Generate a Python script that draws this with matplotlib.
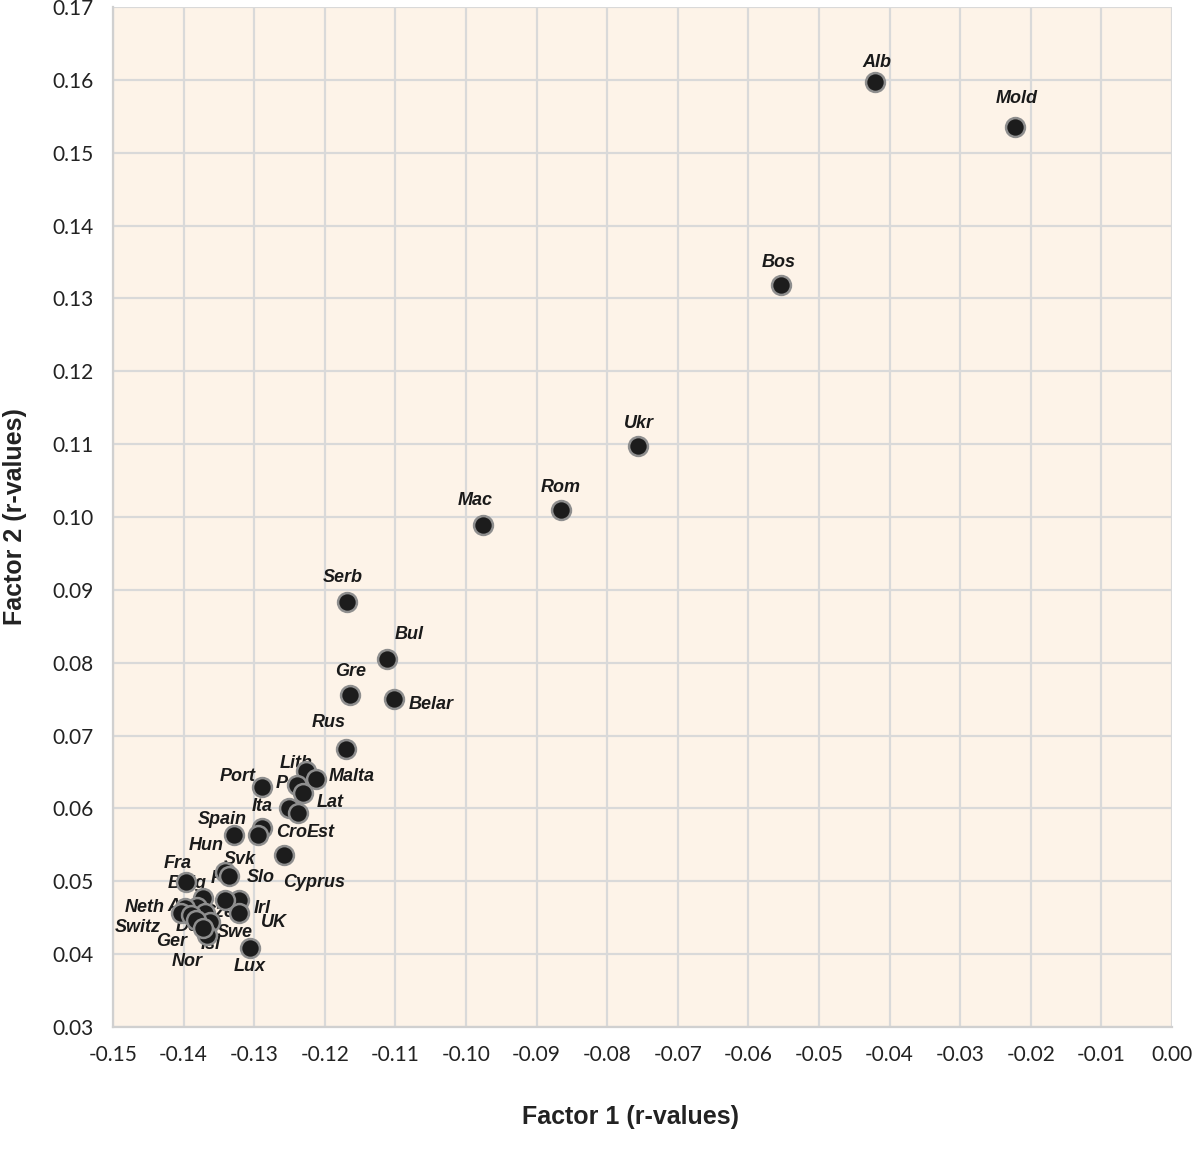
import matplotlib
matplotlib.use("Agg")
import matplotlib.pyplot as plt
import numpy as np

# country codes, factor 1 and factor 2 r-values
countries = ["Alb", "Mold", "Bos", "Ukr", "Rom", "Mac", "Serb", "Bul", "Gre", "Belar",
             "Rus", "Lith", "Malta", "Pol", "Lat", "Port", "Ita", "Est", "Cro", "Spain",
             "Hun", "Cyprus", "Fra", "Svk", "Fin", "Slo", "Irl", "UK", "Belg", "Aut",
             "Neth", "Cze", "Switz", "Den", "Swe", "Ger", "Isl", "Nor", "Lux"]
factor1 = [-0.0420, -0.0223, -0.0554, -0.0757, -0.0866, -0.0976, -0.1168, -0.1112, -0.1165, -0.1102,
           -0.1170, -0.1226, -0.1213, -0.1240, -0.1231, -0.1289, -0.1251, -0.1238, -0.1289, -0.1328,
           -0.1295, -0.1258, -0.1396, -0.1342, -0.1335, -0.1321, -0.1342, -0.1321, -0.1373, -0.1381,
           -0.1398, -0.1370, -0.1403, -0.1389, -0.1363, -0.1383, -0.1367, -0.1373, -0.1306]
factor2 = [0.1597, 0.1535, 0.1318, 0.1097, 0.1010, 0.0989, 0.0883, 0.0805, 0.0756, 0.0750,
           0.0682, 0.0651, 0.0640, 0.0632, 0.0621, 0.0629, 0.0601, 0.0594, 0.0573, 0.0564,
           0.0564, 0.0536, 0.0499, 0.0513, 0.0507, 0.0474, 0.0474, 0.0457, 0.0477, 0.0465,
           0.0464, 0.0457, 0.0457, 0.0454, 0.0444, 0.0447, 0.0426, 0.0436, 0.0408]

# where each label sits relative to its point (pixels, up is positive)
label_offsets = [(1, 20), (2, 29), (-2, 23), (1, 23), (0, 22), (-8, 25), (-5, 25), (22, 25), (1, 23), (37, -5),
                 (-17, 26), (-10, 8), (36, 3), (-7, 2), (27, -9), (-24, 11), (-27, 1), (23, -20), (30, -4), (-12, 15),
                 (-52, -11), (30, -27), (-9, 19), (15, 12), (-5, -2), (21, 23), (38, -8), (35, -10), (-15, 15), (-15, 0),
                 (-40, 0), (13, 0), (-44, -15), (1, -12), (25, -10), (-24, -22), (4, -9), (-15, -34), (0, -18)]

xticks = np.round(np.arange(-0.15, 0.001, 0.01), 2)
yticks = np.round(np.arange(0.03, 0.171, 0.01), 2)

fig = plt.figure(figsize=(11.92, 11.63), dpi=100)
ax = fig.add_axes([113 / 1192, 1 - 1027 / 1163, 1059 / 1192, 1020 / 1163])
ax.set_facecolor("#fdf3e8")

ax.scatter(factor1, factor2, s=185, facecolor="#1c1c1c", edgecolor="#8e8e8e",
           linewidth=1.8, zorder=3)

for name, x, y, off in zip(countries, factor1, factor2, label_offsets):
    ax.annotate(name, (x, y), xytext=off, textcoords="offset pixels",
                ha="center", va="center", fontsize=13, fontweight="bold",
                fontstyle="italic", family="Liberation Sans", color="#1a1a1a", zorder=2)

ax.set_xlim(-0.15, 0.0)
ax.set_ylim(0.03, 0.17)
ax.set_xticks(xticks)
ax.set_yticks(yticks)
ax.set_xticklabels([f"{v:.2f}" for v in xticks])
ax.set_yticklabels([f"{v:.2f}" for v in yticks])
ax.tick_params(length=0, labelsize=15, labelcolor="#222222")
ax.tick_params(axis="y", pad=14)
ax.tick_params(axis="x", pad=13)
for lab in ax.get_xticklabels() + ax.get_yticklabels():
    lab.set_family("Lato")

ax.grid(True, color="#d9d9d9", linewidth=1.6, zorder=0)
ax.set_axisbelow(True)
for side in ["top", "right"]:
    ax.spines[side].set_visible(False)
for side in ["left", "bottom"]:
    ax.spines[side].set_color("#d0d0d0")
    ax.spines[side].set_linewidth(1.6)

fig.text(631 / 1192, 1 - 1117 / 1163, "Factor 1 (r-values)", ha="center", va="center",
         fontsize=18, fontweight="bold", family="Liberation Sans", color="#222222")
fig.text(15 / 1192, 1 - 517 / 1163, "Factor 2 (r-values)", ha="center", va="center",
         rotation=90, fontsize=18, fontweight="bold", family="Liberation Sans",
         color="#222222")

fig.savefig("out.png", dpi=100)
